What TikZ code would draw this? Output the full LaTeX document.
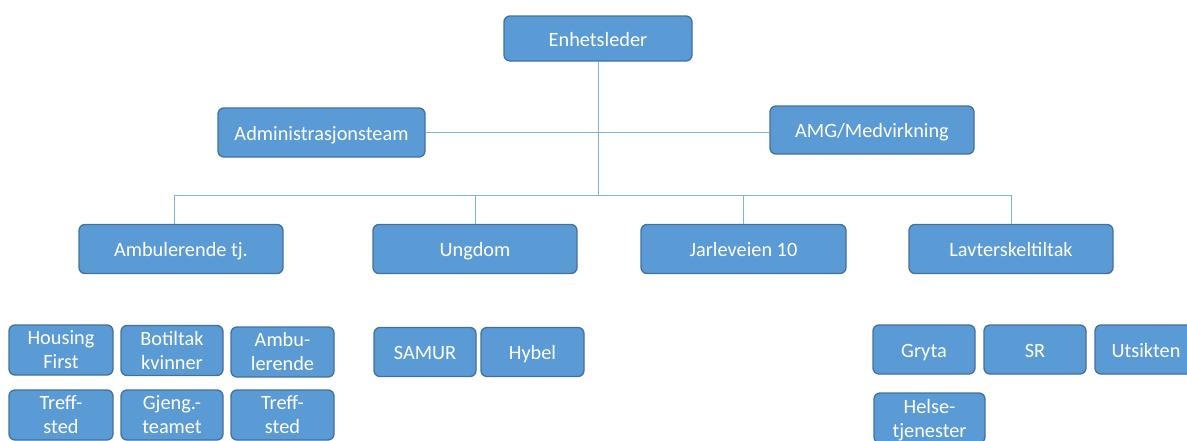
\documentclass[tikz,border=0pt]{standalone}
\usepackage{fontspec}
\setmainfont{Carlito}
\definecolor{boxfill}{HTML}{5B9BD5}
\definecolor{boxline}{HTML}{41719C}
\definecolor{conn}{HTML}{7FB1DE}
\tikzset{
  orgbox/.style={draw=boxline, line width=1.3pt, fill=boxfill, rounded corners=6pt,
    text=white, align=center, inner sep=0pt,
    font=\fontsize{20.3}{24}\selectfont},
  oneline/.style={text height=16pt, text depth=1pt},
  wide/.style={orgbox, oneline, minimum width=204pt, minimum height=49pt},
  small/.style={orgbox, minimum width=103pt, minimum height=50pt},
  link/.style={draw=conn, line width=0.9pt}
}
\begin{document}
\begin{tikzpicture}[x=1pt,y=-1pt]
\useasboundingbox (0,0) rectangle (1187,440);
% top levels
\node[wide, minimum width=188pt, minimum height=45pt] (boss) at (598,38.5) {Enhetsleder};
\node[wide, minimum width=207pt] (admin) at (321.5,132.5) {Administrasjonsteam};
\node[wide, minimum height=48pt] (amg) at (872,130) {AMG/Medvirkning};
\node[wide] (amb) at (181,249) {Ambulerende tj.};
\node[wide] (ung) at (475,249) {Ungdom};
\node[wide, minimum width=205pt] (jarl) at (743.5,249) {Jarleveien 10};
\node[wide] (lav) at (1011,249) {Lavterskeltiltak};
% bottom boxes
\node[small, minimum width=104pt] (housing) at (61,350) {Housing\\First};
\node[small, minimum width=102pt] (botiltak) at (172,350.5) {Botiltak\\kvinner};
\node[small] (ambu) at (282.5,352) {Ambu-\\lerende};
\node[small, minimum width=104pt] (treff1) at (61,415) {Treff-\\sted};
\node[small, minimum width=102pt] (gjeng) at (172,415) {Gjeng.-\\teamet};
\node[small] (treff2) at (282.5,415) {Treff-\\sted};
\node[small, oneline, minimum width=102pt, minimum height=49pt] (samur) at (425,352) {SAMUR};
\node[small, oneline, minimum height=49pt] (hybel) at (532.5,352) {Hybel};
\node[small, oneline, minimum width=102pt, minimum height=49pt] (gryta) at (924,349.5) {Gryta};
\node[small, oneline, minimum width=102pt, minimum height=49pt] (sr) at (1035,349.5) {SR};
\node[small, oneline, minimum width=102pt, minimum height=49pt] (utsikten) at (1146,349.5) {Utsikten};
\node[small, minimum width=111pt] (helse) at (929.5,418) {Helse-\\\smash{tjenester}};
% connectors
\coordinate (bus) at (598,195.5);
\draw[link] (boss.south) -- (bus);
\draw[link] (admin.east) -- (admin.east -| amg.west);
\draw[link] ([xshift=-7pt]amb.north) |- (bus) -| (lav.north);
\draw[link] (ung.north) -- (ung.north |- bus);
\draw[link] (jarl.north) -- (jarl.north |- bus);
\end{tikzpicture}
\end{document}
